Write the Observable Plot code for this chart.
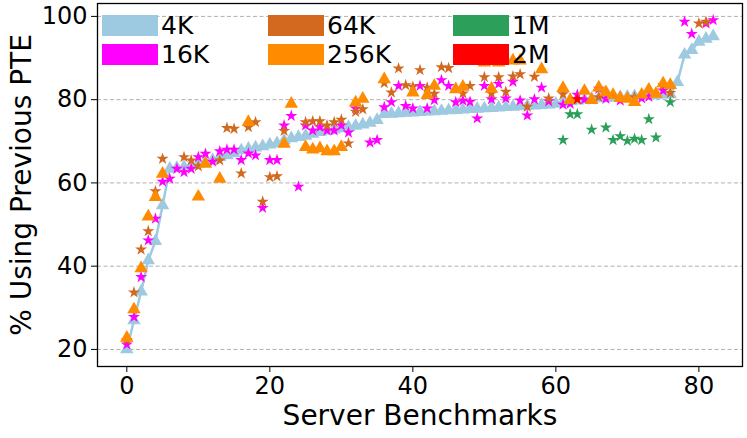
<!DOCTYPE html>
<html><head><meta charset="utf-8">
<script src="https://cdn.jsdelivr.net/npm/d3@7"></script>
<script src="https://cdn.jsdelivr.net/npm/@observablehq/plot@0.6"></script>
<style>
body{margin:0;background:#fff;}
#wrap{position:relative;width:747px;height:438px;font-family:"DejaVu Sans",sans-serif;}
#legend{position:absolute;left:102px;top:11px;display:grid;grid-template-columns:166px 185px 120px;grid-auto-flow:column;grid-template-rows:29px 29px;}
.item{display:flex;align-items:center;height:29px;font-size:25px;line-height:1;color:#000}
.sw{width:56px;height:21px;margin-right:3px;flex:none}
</style></head><body><div id="wrap"><div id="legend"></div></div>
<script>
// Benchmark index (x) and tick labels
const benchmarks = d3.range(83);
const xTicks = [0, 20, 40, 60, 80];
const yTicks = [20, 40, 60, 80, 100];
const seriesNames = ["4K", "16K", "64K", "256K", "1M", "2M"];
const seriesColors = ["#9ecae1", "#ff00ff", "#d2691e", "#ff8c00", "#2ca05a", "#ff0000"];

const s4K = [20.0,27.0,33.9,41.4,46.0,54.6,63.4,63.6,63.8,64.2,
64.6,65.0,65.5,66.2,66.6,67.1,67.8,68.2,68.5,68.8,
69.2,69.5,70.2,70.7,71.0,71.3,71.8,72.2,72.5,72.8,
73.1,73.4,73.7,74.0,74.4,75.1,76.5,76.6,76.7,76.8,
76.9,77.0,77.1,77.2,77.3,77.4,77.5,77.6,77.7,77.8,
77.9,78.0,78.1,78.2,78.3,78.4,78.5,78.6,78.7,78.8,
79.0,79.3,79.6,79.8,80.0,80.2,80.3,80.4,80.5,80.6,
80.7,80.8,80.9,81.0,81.1,81.2,81.3,84.2,90.8,91.9,
93.9,94.6,95.2];

const s16K = [21.2,27.8,37.4,46.2,51.4,60.3,61.0,63.4,62.6,63.4,
66.2,67.0,65.1,67.6,68.0,68.0,65.5,67.1,66.6,54.0,
65.5,65.5,73.8,76.1,59.1,73.8,72.6,73.4,72.6,72.6,
73.8,72.1,77.9,null,69.7,70.3,78.2,79.4,83.3,78.5,
77.9,83.3,77.9,79.9,84.7,83.3,79.4,79.8,79.5,75.5,
83.3,80.1,83.8,80.3,84.3,79.8,76.2,80.1,82.9,79.6,
null,78.8,79.0,81.2,80.0,null,82.6,80.2,null,79.8,
null,null,80.3,80.7,null,82.2,null,null,98.7,95.8,
null,98.3,99.1];

const s64K = [22.3,33.7,44.0,48.4,58.0,65.8,null,null,66.2,65.4,
64.0,null,null,65.4,73.2,73.0,62.3,73.4,74.6,55.5,
61.4,61.6,72.5,null,null,74.6,74.8,74.8,73.8,74.6,
75.2,69.5,77.1,77.7,null,null,84.0,81.7,87.5,83.5,
83.1,87.1,82.9,81.4,87.8,87.6,null,81.5,83.3,null,
85.4,81.5,85.4,81.9,85.6,86.1,78.3,85.5,null,80.3,
null,81.3,null,null,null,null,80.6,null,null,null,
null,80.6,null,null,null,83.5,81.6,null,null,null,
98.3,98.7,null];

const s256K = [22.8,29.6,39.5,51.9,56.6,62.2,null,null,null,null,
56.7,64.6,null,61.0,null,null,null,74.6,null,null,
null,null,69.4,79.0,null,68.6,68.0,68.3,67.6,67.6,
68.6,null,79.3,80.2,null,null,84.9,null,null,null,
81.7,null,81.1,83.3,null,null,82.5,83.1,null,null,
88.9,82.6,88.9,null,89.4,89.4,null,null,87.3,null,
null,82.8,79.9,null,82.1,79.9,82.9,81.8,81.1,80.4,
80.2,79.4,81.2,82.4,81.4,83.9,83.5,null,null,null,
null,null,null];

const s1MIdx = [61,62,63,65,67,68,69,70,71,72,73,74,76];
const s1MVal = [70.3,76.5,76.5,72.8,73.3,70.3,71.2,70.1,70.6,70.3,75.3,70.9,79.4];
const s2MIdx = [63];
const s2MVal = [80.1];

const toRows = (vals) => benchmarks.map((b, i) => ({x: b, y: vals[i]})).filter(d => d.y != null);
const pairRows = (idx, vals) => idx.map((b, i) => ({x: b, y: vals[i]}));

const r4K = toRows(s4K), r16K = toRows(s16K), r64K = toRows(s64K), r256K = toRows(s256K);
const r1M = pairRows(s1MIdx, s1MVal), r2M = pairRows(s2MIdx, s2MVal);

const starR = 3.8, triR = 5;

const chart = Plot.plot({
  width: 747, height: 438,
  marginLeft: 97, marginRight: 5, marginTop: 3, marginBottom: 72,
  style: {fontFamily: "DejaVu Sans", fontSize: "24px", color: "#000", background: "transparent"},
  x: {domain: [-4.1, 86.1]},
  y: {domain: [15.9, 103.1]},
  marks: [
    Plot.gridY(yTicks, {stroke: "#b0b0b0", strokeOpacity: 1, strokeDasharray: "4,2.5", strokeWidth: 1}),
    Plot.line(r4K, {x: "x", y: "y", stroke: seriesColors[0], strokeWidth: 2.5}),
    Plot.dot(r4K, {x: "x", y: "y", symbol: "triangle", r: triR, fill: seriesColors[0]}),
    Plot.dot(r16K, {x: "x", y: "y", symbol: "star", r: starR, fill: seriesColors[1]}),
    Plot.dot(r64K, {x: "x", y: "y", symbol: "star", r: starR, fill: seriesColors[2]}),
    Plot.dot(r256K, {x: "x", y: "y", symbol: "triangle", r: triR, fill: seriesColors[3]}),
    Plot.dot(r1M, {x: "x", y: "y", symbol: "star", r: starR, fill: seriesColors[4]}),
    Plot.dot(r2M, {x: "x", y: "y", symbol: "star", r: starR, fill: seriesColors[5]}),
    Plot.frame({stroke: "#000", strokeWidth: 1.3}),
    Plot.axisX({ticks: xTicks, label: null, tickSize: 6, tickPadding: 4, fontSize: 24, tickFormat: d3.format("d")}),
    Plot.axisY({ticks: yTicks, label: null, tickSize: 6, tickPadding: 4, fontSize: 24, tickFormat: d3.format("d")}),
    Plot.text(["Server Benchmarks"], {text: d => d, frameAnchor: "bottom", lineAnchor: "middle", dy: 50, fontSize: 28}),
    Plot.text(["% Using Previous PTE"], {text: d => d, frameAnchor: "left", textAnchor: "middle", lineAnchor: "middle", rotate: -90, dx: -75, fontSize: 28})
  ]
});
document.getElementById("wrap").prepend(chart);

const legend = document.getElementById("legend");
seriesNames.forEach((name, i) => {
  const item = document.createElement("div");
  item.className = "item";
  const sw = document.createElement("span");
  sw.className = "sw";
  sw.style.background = seriesColors[i];
  const lab = document.createElement("span");
  lab.textContent = name;
  item.append(sw, lab);
  legend.append(item);
});
</script>
</body></html>
